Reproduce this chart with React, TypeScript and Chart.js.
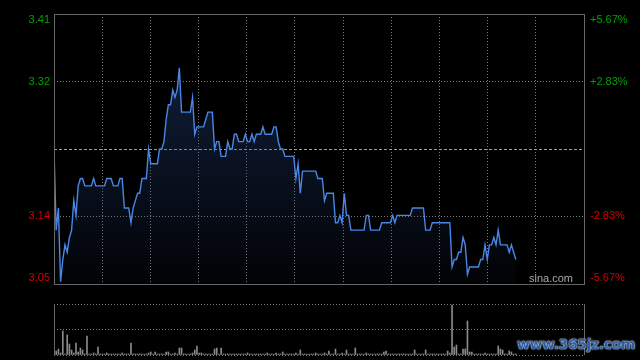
import { useEffect, useRef } from "react";
import { Chart, registerables } from "chart.js";

Chart.register(...registerables);

// ---- data ----
const prevClose = 3.23;
const pctSteps = [-5.67, -2.83, 0, 2.83, 5.67];
const priceLabels = ["3.05", "3.14", "3.23", "3.32", "3.41"];
const lastMinuteIndex = 241; // full trading day, minute slots 0..241

const prices = [
  3.23, 3.12, 3.15, 3.05, 3.08, 3.10, 3.09, 3.11, 3.12, 3.16,
  3.14, 3.18, 3.19, 3.19, 3.18, 3.18, 3.18, 3.18, 3.19, 3.18,
  3.18, 3.18, 3.18, 3.18, 3.19, 3.19, 3.19, 3.18, 3.18, 3.18,
  3.19, 3.19, 3.15, 3.15, 3.15, 3.13, 3.15, 3.16, 3.17, 3.17,
  3.19, 3.19, 3.19, 3.23, 3.21, 3.21, 3.21, 3.21, 3.23, 3.23,
  3.24, 3.27, 3.29, 3.29, 3.31, 3.30, 3.31, 3.34, 3.28, 3.28,
  3.28, 3.28, 3.28, 3.30, 3.25, 3.26, 3.26, 3.26, 3.26, 3.27,
  3.28, 3.28, 3.28, 3.23, 3.24, 3.24, 3.22, 3.22, 3.22, 3.24,
  3.23, 3.23, 3.25, 3.25, 3.24, 3.24, 3.24, 3.25, 3.24, 3.24,
  3.25, 3.24, 3.25, 3.25, 3.25, 3.26, 3.25, 3.25, 3.25, 3.25,
  3.26, 3.26, 3.24, 3.23, 3.23, 3.22, 3.22, 3.22, 3.22, 3.22,
  3.19, 3.21, 3.17, 3.20, 3.20, 3.20, 3.20, 3.20, 3.20, 3.20,
  3.19, 3.19, 3.19, 3.16, 3.17, 3.17, 3.17, 3.17, 3.13, 3.13,
  3.14, 3.13, 3.17, 3.14, 3.14, 3.12, 3.12, 3.12, 3.12, 3.12,
  3.12, 3.12, 3.14, 3.14, 3.12, 3.12, 3.12, 3.12, 3.12, 3.13,
  3.13, 3.13, 3.13, 3.13, 3.14, 3.13, 3.14, 3.14, 3.14, 3.14,
  3.14, 3.14, 3.14, 3.15, 3.15, 3.15, 3.15, 3.15, 3.15, 3.12,
  3.12, 3.12, 3.13, 3.13, 3.13, 3.13, 3.13, 3.13, 3.13, 3.13,
  3.13, 3.07, 3.08, 3.08, 3.09, 3.09, 3.11, 3.10, 3.06, 3.07,
  3.07, 3.07, 3.07, 3.07, 3.08, 3.08, 3.10, 3.08, 3.10, 3.10,
  3.11, 3.10, 3.12, 3.10, 3.10, 3.10, 3.10, 3.09, 3.10, 3.09,
  3.08,
];

const volumes = [
  2, 4, 6, 2, 24, 1, 20, 11, 5, 2,
  12, 3, 7, 5, 1, 19, 1, 1, 2, 1,
  8, 1, 1, 1, 2, 1, 1, 1, 1, 1,
  1, 2, 1, 1, 1, 12, 1, 1, 1, 1,
  1, 1, 1, 2, 3, 1, 3, 1, 1, 1,
  1, 3, 3, 1, 1, 2, 1, 7, 7, 1,
  1, 1, 1, 2, 5, 9, 2, 2, 1, 1,
  1, 1, 1, 6, 7, 1, 7, 1, 1, 1,
  1, 1, 1, 1, 1, 1, 1, 1, 2, 1,
  1, 1, 1, 1, 1, 1, 1, 2, 1, 1,
  1, 2, 1, 1, 3, 1, 1, 1, 1, 1,
  2, 1, 5, 1, 1, 1, 1, 1, 1, 2,
  1, 1, 1, 2, 1, 4, 1, 1, 6, 1,
  1, 2, 1, 5, 1, 1, 1, 7, 1, 1,
  1, 1, 2, 1, 1, 1, 1, 1, 1, 1,
  3, 4, 1, 1, 1, 1, 1, 1, 1, 1,
  1, 1, 1, 1, 5, 1, 1, 1, 1, 5,
  1, 1, 1, 1, 1, 1, 1, 1, 1, 4,
  2, 50, 8, 10, 1, 1, 6, 6, 34, 3,
  3, 1, 1, 1, 1, 1, 2, 1, 1, 1,
  1, 1, 9, 6, 5, 1, 1, 4, 3, 1,
  1,
];
const volMax = 51;

// ---- styles ----
const FONT = '11px "Liberation Sans", Arial, sans-serif';
const GRID = "#7a7a7a";
const FRAME = "#666666";
const UP = "#00a000";
const DOWN = "#d40000";

const yMin = prevClose * (1 + pctSteps[0] / 100);
const yMax = prevClose * (1 + pctSteps[pctSteps.length - 1] / 100);

const priceDecor = {
  id: "priceDecor",
  beforeDatasetsDraw(chart: any) {
    const { ctx, chartArea: a, scales } = chart;
    const py = Math.round(scales.y.getPixelForValue(prevClose)) + 0.5;
    ctx.save();
    ctx.strokeStyle = "#a0a0a0";
    ctx.lineWidth = 1;
    ctx.setLineDash([3, 2]);
    ctx.beginPath();
    ctx.moveTo(a.left, py);
    ctx.lineTo(a.right, py);
    ctx.stroke();
    ctx.restore();
  },
  afterDraw(chart: any) {
    const { ctx, chartArea: a, scales } = chart;
    ctx.save();
    ctx.strokeStyle = FRAME;
    ctx.lineWidth = 1;
    ctx.setLineDash([]);
    ctx.strokeRect(Math.round(a.left) + 0.5, Math.round(a.top) + 0.5, Math.round(a.width), Math.round(a.height));
    ctx.font = FONT;
    ctx.textBaseline = "middle";
    pctSteps.forEach((p, i) => {
      if (p === 0) return;
      let py = scales.y.getPixelForValue(prevClose * (1 + p / 100));
      py = Math.min(Math.max(py, a.top + 6), a.bottom - 6);
      ctx.fillStyle = p > 0 ? UP : DOWN;
      ctx.textAlign = "right";
      ctx.fillText(priceLabels[i], a.left - 4, py);
      ctx.textAlign = "left";
      ctx.fillText(`${p > 0 ? "+" : ""}${p.toFixed(2)}%`, a.right + 6, py);
    });
    ctx.fillStyle = "#a8a8a8";
    ctx.textAlign = "right";
    ctx.fillText("sina.com", a.right - 11, a.bottom - 5);
    ctx.restore();
  },
};

const volDecor = {
  id: "volDecor",
  afterDraw(chart: any) {
    const { ctx, chartArea: a } = chart;
    ctx.save();
    ctx.strokeStyle = FRAME;
    ctx.lineWidth = 1;
    ctx.beginPath();
    const l = Math.round(a.left) + 0.5;
    const r = Math.round(a.right) + 0.5;
    ctx.moveTo(l, a.top);
    ctx.lineTo(l, a.bottom);
    ctx.moveTo(r, a.top);
    ctx.lineTo(r, a.bottom);
    ctx.stroke();
    ctx.restore();
  },
};

export default function App() {
  const priceRef = useRef<HTMLCanvasElement>(null);
  const volRef = useRef<HTMLCanvasElement>(null);

  useEffect(() => {
    const xTicks = (s: any) => {
      s.ticks = Array.from({ length: 12 }, (_, i) => ({ value: (i * lastMinuteIndex) / 11 }));
    };
    const priceChart = new Chart(priceRef.current as HTMLCanvasElement, {
      type: "line",
      data: {
        datasets: [
          {
            data: prices.map((p, i) => ({ x: i, y: p })),
            borderColor: "#4a86e6",
            borderWidth: 1.4,
            pointRadius: 0,
            tension: 0,
            fill: "start",
            backgroundColor: (c: any) => {
              const { chart } = c;
              const area = chart.chartArea;
              if (!area) return "rgba(0,0,0,0)";
              const g = chart.ctx.createLinearGradient(0, area.top, 0, area.bottom);
              g.addColorStop(0, "rgba(40,72,135,0.5)");
              g.addColorStop(1, "rgba(40,72,135,0.04)");
              return g;
            },
          },
        ],
      },
      options: {
        responsive: false,
        animation: false,
        events: [],
        layout: { padding: { left: 54, right: 56, top: 14, bottom: 76 } },
        plugins: { legend: { display: false }, tooltip: { enabled: false } },
        scales: {
          x: {
            type: "linear",
            min: 0,
            max: lastMinuteIndex,
            afterBuildTicks: xTicks,
            ticks: { display: false },
            border: { display: false, dash: [1, 2] },
            grid: {
              drawTicks: false,
              color: (c: any) => (c.index === 0 || c.index === 11 ? "rgba(0,0,0,0)" : GRID),
            },
          },
          y: {
            type: "linear",
            min: yMin,
            max: yMax,
            afterBuildTicks: (s: any) => {
              s.ticks = pctSteps.map((p) => ({ value: prevClose * (1 + p / 100) }));
            },
            ticks: { display: false },
            border: { display: false, dash: [1, 2] },
            grid: {
              drawTicks: false,
              color: (c: any) => (c.index === 1 || c.index === 3 ? GRID : "rgba(0,0,0,0)"),
            },
          },
        },
      },
      plugins: [priceDecor],
    } as any);

    const volChart = new Chart(volRef.current as HTMLCanvasElement, {
      type: "bar",
      data: {
        datasets: [
          {
            data: volumes.map((v, i) => ({ x: i, y: v })),
            backgroundColor: "#8a8a8a",
            barThickness: 1,
          },
        ],
      },
      options: {
        responsive: false,
        animation: false,
        events: [],
        layout: { padding: { left: 54, right: 56, top: 304, bottom: 5 } },
        plugins: { legend: { display: false }, tooltip: { enabled: false } },
        scales: {
          x: {
            type: "linear",
            min: 0,
            max: lastMinuteIndex,
            offset: false,
            ticks: { display: false },
            border: { display: false },
            grid: { display: false, offset: false, drawTicks: false },
          },
          y: {
            type: "linear",
            min: 0,
            max: volMax,
            afterBuildTicks: (s: any) => {
              s.ticks = [0, volMax / 2, volMax].map((v) => ({ value: v }));
            },
            ticks: { display: false },
            border: { display: false, dash: [1, 2] },
            grid: { drawTicks: false, color: GRID },
          },
        },
      },
      plugins: [volDecor],
    } as any);

    return () => {
      priceChart.destroy();
      volChart.destroy();
    };
  }, []);

  return (
    <div
      style={{
        position: "fixed",
        left: 0,
        top: 0,
        width: 640,
        height: 360,
        background: "#000",
        overflow: "hidden",
      }}
    >
      <canvas ref={priceRef} width={640} height={360} style={{ position: "absolute", left: 0, top: 0 }} />
      <canvas ref={volRef} width={640} height={360} style={{ position: "absolute", left: 0, top: 0 }} />
      <span
        style={{
          position: "absolute",
          left: 517,
          top: 336,
          font: 'bold 14px "DejaVu Sans", sans-serif',
          color: "#2d5ea8",
          textShadow: "0 0 2px #e8f0ff, 0 0 1px #ffffff",
          whiteSpace: "nowrap",
          letterSpacing: "-0.4px",
        }}
      >
        www.365jz.com
      </span>
    </div>
  );
}
